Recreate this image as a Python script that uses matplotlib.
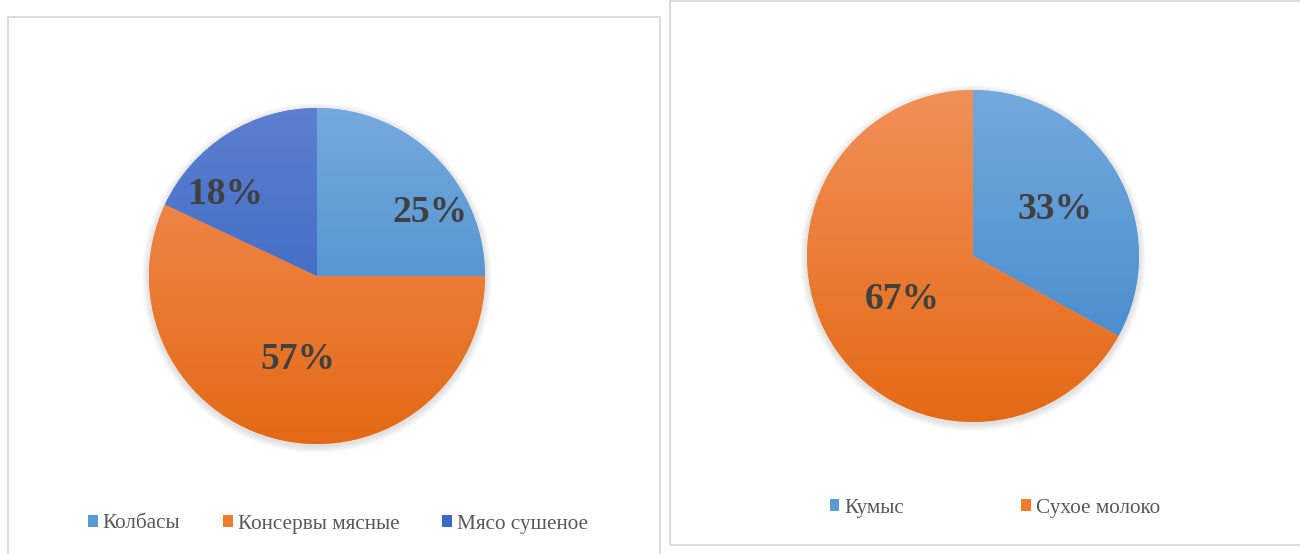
import matplotlib
matplotlib.use("Agg")
import numpy as np
import matplotlib.pyplot as plt
from matplotlib.colors import LinearSegmentedColormap
from matplotlib.patches import Rectangle, Circle, Patch

# Мясные продукты
meat_labels = ["Колбасы", "Консервы мясные", "Мясо сушеное"]
meat_values = [25, 57, 18]

# Молочные продукты
milk_labels = ["Кумыс", "Сухое молоко"]
milk_values = [33, 67]

# Градиенты заливки (верх -> низ)
LIGHT_BLUE = ("#74A9DD", "#3D85C9")
ORANGE = ("#F19058", "#E46915")
DARK_BLUE = ("#5C80D0", "#2D5DBD")

W, H = 1300, 554
fig = plt.figure(figsize=(W / 100, H / 100), dpi=100)
fig.patch.set_facecolor("white")


def px_rect(x0, y0, x1, y1):
    # прямоугольник в пикселях (отсчёт сверху) -> доли фигуры
    return [x0 / W, 1 - y1 / H, (x1 - x0) / W, (y1 - y0) / H]


# рамки панелей
for x0, y0, x1, y1 in [(8, 17, 660, 570), (670, 1, 1320, 545)]:
    fig.patches.append(Rectangle((x0 / W, 1 - y1 / H), (x1 - x0) / W, (y1 - y0) / H,
                                 transform=fig.transFigure, fill=False,
                                 edgecolor="#D9D9D9", linewidth=1.3, clip_on=False))


def gradient_pie(ax, values, colors, nudges):
    # мягкая тень вокруг круга
    for k in range(6):
        ax.add_patch(Circle((0.0, -0.012), 1.0 + 0.007 * (k + 1), color="#000000",
                            alpha=0.018, lw=0, clip_on=False, zorder=0))
    ax.add_patch(Circle((0, 0), 1.0, color="white", lw=0, zorder=0.5))

    wedges, _ = ax.pie(values, startangle=90, counterclock=False, radius=1.0,
                       colors=[c[0] for c in colors],
                       wedgeprops=dict(linewidth=0))
    grad = np.linspace(0, 1, 256).reshape(-1, 1)
    for w, c in zip(wedges, colors):
        cmap = LinearSegmentedColormap.from_list("g", [c[0], c[1]])
        im = ax.imshow(grad, cmap=cmap, extent=(-1, 1, -1, 1), origin="upper",
                       aspect="auto", zorder=2, interpolation="bicubic")
        im.set_clip_path(w)

    total = float(sum(values))
    for w, v, (rf, da) in zip(wedges, values, nudges):
        mid = np.deg2rad((w.theta1 + w.theta2) / 2 + da)
        ax.text(rf * np.cos(mid), rf * np.sin(mid), f"{round(100 * v / total)}%",
                ha="center", va="center", fontsize=27, fontweight="bold",
                family="Liberation Serif", color="#404040", zorder=5)
    ax.set_xlim(-1, 1)
    ax.set_ylim(-1, 1)
    ax.set_aspect("equal")
    ax.axis("off")
    return wedges


ax1 = fig.add_axes(px_rect(149, 108, 485, 444))
w1 = gradient_pie(ax1, meat_values, [LIGHT_BLUE, ORANGE, DARK_BLUE],
                  [(0.77, -15.5), (0.51, 0), (0.73, 16)])

ax2 = fig.add_axes(px_rect(807, 90, 1139, 422))
w2 = gradient_pie(ax2, milk_values, [LIGHT_BLUE, ORANGE],
                  [(0.57, -1), (0.50, 1)])

legend_kw = dict(frameon=False, handlelength=0.46, handleheight=0.46,
                 handletextpad=0.25, borderaxespad=0,
                 prop={"family": "Liberation Serif", "size": 15.3},
                 labelcolor="#595959")

h1 = [Patch(facecolor=c, edgecolor="none") for c in ["#5B9BD5", "#ED7D31", "#3D68C6"]]
fig.legend(h1, meat_labels, loc="center", ncol=3, columnspacing=2.0,
           bbox_to_anchor=(338 / W, 1 - 524 / H), **legend_kw)

h2 = [Patch(facecolor=c, edgecolor="none") for c in ["#5B9BD5", "#ED7D31"]]
fig.legend(h2, milk_labels, loc="center", ncol=2, columnspacing=5.5,
           bbox_to_anchor=(995 / W, 1 - 508 / H), **legend_kw)

fig.savefig("out.png", dpi=100)
